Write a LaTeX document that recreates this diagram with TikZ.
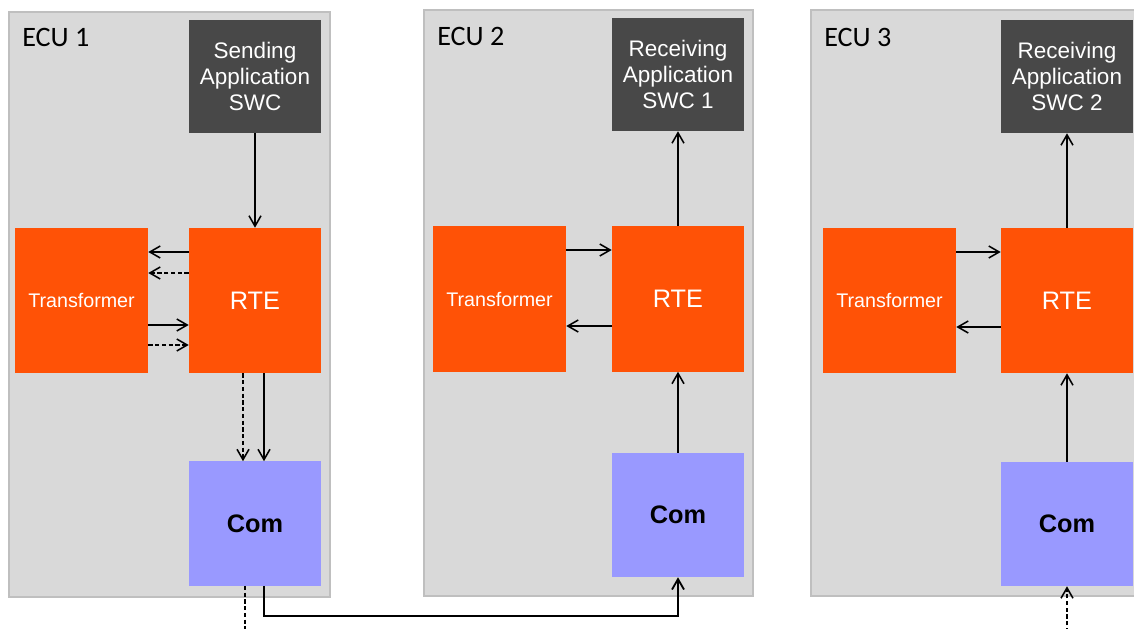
\documentclass[tikz,border=0pt]{standalone}
\usepackage{fontspec}
\setmainfont{Liberation Sans}
\newfontfamily\ecufont{Carlito}
\usetikzlibrary{arrows.meta}
\definecolor{ecufill}{HTML}{D9D9D9}
\definecolor{ecuedge}{HTML}{BFBFBF}
\definecolor{swcgray}{HTML}{484848}
\definecolor{rteorange}{HTML}{FF5206}
\definecolor{comblue}{HTML}{9999FF}
\tikzset{
  every picture/.append style={line join=miter},
  ecu box/.style={draw=ecuedge,line width=1.6pt,fill=ecufill,inner sep=0pt},
  ecu label/.style={anchor=west,inner sep=0pt,font=\ecufont\fontsize{20}{24}\selectfont},
  swc block/.style={fill=swcgray,text=white,inner sep=0pt,align=center,
    minimum width=3.3cm,minimum height=2.825cm,font=\fontsize{16}{18.4}\selectfont},
  trafo block/.style={fill=rteorange,text=white,inner sep=0pt,
    minimum width=3.325cm,minimum height=3.625cm,font=\fontsize{14}{16}\selectfont},
  rte block/.style={fill=rteorange,text=white,inner sep=0pt,
    minimum width=3.3cm,minimum height=3.625cm,font=\fontsize{18}{21}\selectfont},
  com block/.style={fill=comblue,text=black,inner sep=0pt,
    minimum width=3.3cm,minimum height=3.1cm,font=\bfseries\fontsize{18}{21}\selectfont},
  sig/.style={line width=1.1pt,-{Straight Barb[length=2.6mm,width=3mm]}},
  dsig/.style={sig,dash pattern=on 3pt off 1.8pt},
  dashed wire/.style={line width=1.1pt,dash pattern=on 3pt off 1.8pt}
}

\begin{document}
\begin{tikzpicture}[x=0.025cm,y=-0.025cm]
  \useasboundingbox (0,0) rectangle (1134,629);
  % ECU frames
  \node[ecu box,minimum width=8.025cm,minimum height=14.625cm] (ecu1) at (169.5,304.5) {};
  \node[ecu box,minimum width=8.225cm,minimum height=14.65cm] (ecu2) at (588.5,303) {};
  \node[ecu box,minimum width=8.225cm,minimum height=14.65cm] (ecu3) at (975.5,303) {};
  \node[ecu label] (lab1) at (22,37) {ECU 1};
  \node[ecu label] (lab2) at (437,36) {ECU 2};
  \node[ecu label] (lab3) at (824,37) {ECU 3};

  % ECU 1
  \node[swc block] (swc0) at (255,76.5) {Sending\\Application\\SWC};
  \node[trafo block] (t1) at (81.5,300.5) {Transformer};
  \node[rte block] (r1) at (255,300.5) {RTE};
  \node[com block] (c1) at (255,523.5) {Com};
  \draw[sig] (swc0) -- (r1);
  \draw[sig] (r1.west |- 0,252) -- (t1.east |- 0,252);
  \draw[dsig] (r1.west |- 0,273) -- (t1.east |- 0,273);
  \draw[sig] (t1.east |- 0,325) -- (r1.west |- 0,325);
  \draw[dsig] (t1.east |- 0,345) -- (r1.west |- 0,345);
  \draw[dsig] (r1.south -| 243,0) -- (c1.north -| 243,0);
  \draw[sig] (r1.south -| 264,0) -- (c1.north -| 264,0);

  % ECU 2
  \node[swc block] (swc1) at (678,74.5) {Receiving\\Application\\SWC 1};
  \node[trafo block] (t2) at (499.5,299) {Transformer};
  \node[rte block] (r2) at (678,299) {RTE};
  \node[com block] (c2) at (678,515) {Com};
  \draw[sig] (r2) -- (swc1);
  \draw[sig] (t2.east |- 0,250) -- (r2.west |- 0,250);
  \draw[sig] (r2.west |- 0,326) -- (t2.east |- 0,326);
  \draw[sig] (c2) -- (r2);

  % ECU 3
  \node[swc block] (swc2) at (1067,76.5) {Receiving\\Application\\SWC 2};
  \node[trafo block] (t3) at (889.5,300.5) {Transformer};
  \node[rte block] (r3) at (1067,300.5) {RTE};
  \node[com block] (c3) at (1067,524) {Com};
  \draw[sig] (r3) -- (swc2);
  \draw[sig] (t3.east |- 0,252) -- (r3.west |- 0,252);
  \draw[sig] (r3.west |- 0,327) -- (t3.east |- 0,327);
  \draw[sig] (c3) -- (r3);

  % bus between the ECUs
  \coordinate (bus out) at (245,632);
  \coordinate (bus in) at (1067,632);
  \draw[dashed wire] (c1.south -| 245,0) -- (bus out);
  \draw[sig,line width=1.3pt] (c1.south -| 264,0) -- ++(0,30) -| (c2.south);
  \draw[dsig] (bus in) -- (c3.south);
\end{tikzpicture}
\end{document}
